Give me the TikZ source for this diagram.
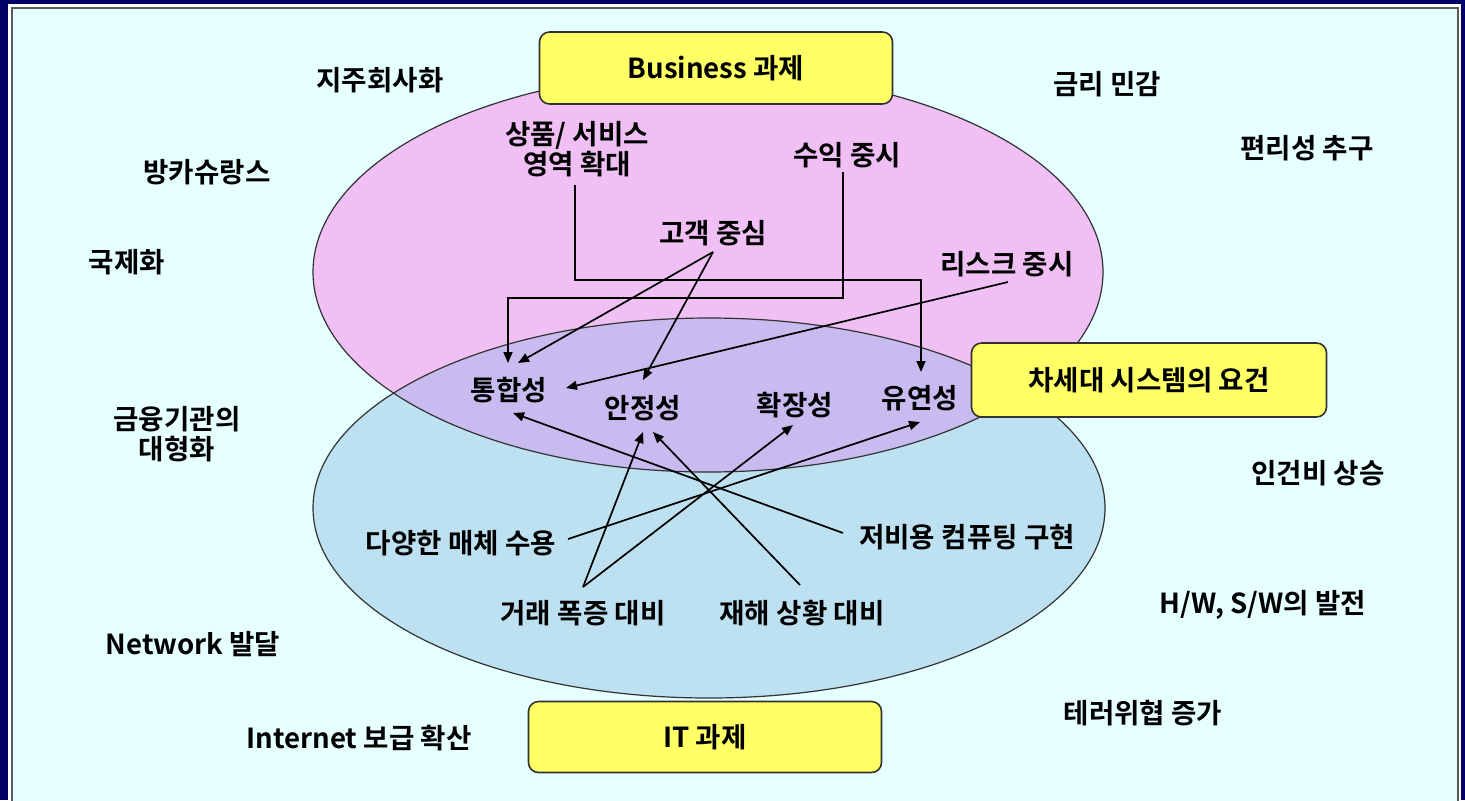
\documentclass[tikz,border=0pt]{standalone}
\usepackage{fontspec}
\setmainfont{Noto Sans CJK KR}[BoldFont={Noto Sans CJK KR Bold}]
\usetikzlibrary{arrows.meta,calc}
\definecolor{navy}{RGB}{0,0,102}
\definecolor{panel}{RGB}{230,255,255}
\definecolor{pinkE}{RGB}{240,192,245}
\definecolor{blueE}{RGB}{190,225,242}
\definecolor{mixE}{RGB}{200,187,240}
\definecolor{boxY}{RGB}{255,255,102}
\definecolor{edgeC}{RGB}{50,50,50}
\begin{document}
\begin{tikzpicture}[x=0.5pt,y=-0.5pt,
 lbl/.style={font=\fontsize{13.8}{14}\selectfont\bfseries, inner sep=0pt, align=center},
 titlebox/.style={draw=edgeC, line width=0.8pt, fill=boxY, rounded corners=5pt,
   font=\fontsize{13.8}{14}\selectfont\bfseries, minimum width=176.5pt, minimum height=36pt},
 arr/.style={-{Triangle[length=5.5pt,width=4.5pt]}, line width=0.85pt, black},
 ell/.style={draw=edgeC, line width=0.6pt}]

\useasboundingbox (0,0) rectangle (1465,800);
\fill[navy] (0,0) rectangle (1465,800);
\fill[white] (8,4) rectangle (1461,810);
\filldraw[fill=panel, draw=edgeC!80, line width=0.9pt] (12,8) rectangle (1458,812);

% ellipses
\fill[pinkE] (708,272) ellipse [x radius=197.5pt, y radius=100pt];
\fill[blueE] (709,508) ellipse [x radius=198pt, y radius=95pt];
\begin{scope}
  \clip (708,272) ellipse [x radius=197.5pt, y radius=100pt];
  \fill[mixE] (709,508) ellipse [x radius=198pt, y radius=95pt];
\end{scope}
\draw[ell] (708,272) ellipse [x radius=197.5pt, y radius=100pt];
\draw[ell] (709,508) ellipse [x radius=198pt, y radius=95pt];

% title boxes
\node[titlebox] (biz) at (716,68) {Business 과제};
\node[titlebox, minimum height=35.5pt] (it) at (705,737) {IT 과제};
\node[titlebox, minimum width=177.5pt, minimum height=37pt] (req) at (1149,380) {차세대 시스템의 요건};

% outer labels
\node[lbl] (l1) at (380,80) {지주회사화};
\node[lbl] (l2) at (207,172) {방카슈랑스};
\node[lbl] (l3) at (127,262) {국제화};
\node[lbl] (l4) at (1107,84) {금리 민감};
\node[lbl] (l5) at (1307,148) {편리성 추구};
\node[lbl] (l6) at (177,434) {금융기관의\\[1pt]대형화};
\node[lbl] (l7) at (1318,473) {인건비 상승};
\node[lbl] (l8) at (1263,605) {H/W, S/W의 발전};
\node[lbl] (l9) at (193,644) {Network 발달};
\node[lbl] (l10) at (1143,713) {테러위협 증가};
\node[lbl] (l11) at (359,738) {Internet 보급 확산};

% business issues
\node[lbl] (sang) at (577,149) {상품/ 서비스\\영역 확대};
\node[lbl] (suik) at (847,155) {수익 중시};
\node[lbl] (gog) at (713,233) {고객 중심};
\node[lbl] (risk) at (1007,264) {리스크 중시};

% requirements
\node[lbl] (ton) at (509,390) {통합성};
\node[lbl] (anj) at (643,408) {안정성};
\node[lbl] (hwak) at (795,405) {확장성};
\node[lbl] (yu) at (920,398) {유연성};

% IT issues
\node[lbl] (day) at (461,543) {다양한 매체 수용};
\node[lbl] (jeo) at (967,537) {저비용 컴퓨팅 구현};
\node[lbl] (geo) at (583,613) {거래 폭증 대비};
\node[lbl] (jae) at (802,613) {재해 상황 대비};

% connectors
\draw[arr] ($(sang)+(-2,36)$) |- ($(yu)+(1,-118)$) -- ($(yu)+(1,-26)$);
\draw[arr] ($(suik)+(-4,17)$) |- ($(ton)+(-1,-92)$) -- ($(ton)+(-1,-27)$);
\draw[arr] ($(gog)+(0,19)$) -- ($(ton)+(9,-27)$);
\draw[arr] ($(gog)+(0,19)$) -- ($(anj)+(0,-28)$);
\draw[arr] ($(risk)+(1,18)$) -- ($(ton)+(57,-2)$);
\draw[arr] ($(day)+(107,-4)$) -- ($(yu)+(0,24)$);
\draw[arr] ($(geo)+(0,-26)$) -- ($(anj)+(0,24)$);
\draw[arr] ($(geo)+(0,-26)$) -- ($(hwak)+(-2,20)$);
\draw[arr] ($(jeo)+(-124,-4)$) -- ($(ton)+(4,23)$);
\draw[arr] ($(jae)+(-2,-28)$) -- ($(anj)+(10,24)$);
\end{tikzpicture}
\end{document}
